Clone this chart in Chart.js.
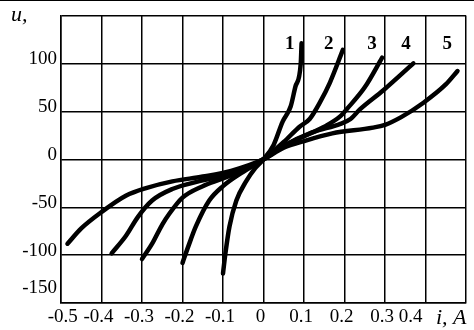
<!DOCTYPE html>
<html>
<head>
<meta charset="utf-8">
<script src="https://cdn.jsdelivr.net/npm/chart.js@4.4.1/dist/chart.umd.min.js"></script>
<style>
    html, body { margin: 0; padding: 0; background: #fff; }
</style>
</head>
<body>
<canvas id="chart" width="474" height="330"></canvas>
<script>
// current i (A) and voltage u for each curve
const i1 = [-0.100, -0.094, -0.084, -0.067, -0.043, -0.020, 0, 0.025, 0.047, 0.067, 0.079, 0.092, 0.094];
const u1 = [-119, -98, -70, -43, -23, -9, 0, 15, 39, 55, 76, 100, 121];

const i2 = [-0.200, -0.185, -0.167, -0.134, -0.100, -0.050, 0, 0.050, 0.089, 0.114, 0.139, 0.164, 0.196];
const u2 = [-108, -90, -70, -43, -28, -13, 0, 18, 34, 42, 59, 80, 114];

const i3 = [-0.300, -0.275, -0.250, -0.233, -0.200, -0.150, -0.100, -0.050, 0, 0.050, 0.100, 0.150, 0.190, 0.205, 0.250, 0.293];
const u3 = [-104, -88, -68, -57, -40, -28, -20, -11, 0, 14, 24, 34, 45, 52, 75, 106];

const i4 = [-0.375, -0.340, -0.310, -0.275, -0.225, -0.150, -0.100, -0.050, 0, 0.050, 0.120, 0.190, 0.215, 0.238, 0.296, 0.370];
const u4 = [-98, -80, -60, -43, -31, -22, -17, -10, 0, 14, 28, 37, 42, 52, 72, 100];

const i5 = [-0.484, -0.450, -0.400, -0.340, -0.290, -0.225, -0.150, -0.080, 0, 0.050, 0.100, 0.170, 0.270, 0.300, 0.340, 0.395, 0.450, 0.479];
const u5 = [-88, -72, -55, -38, -30, -23, -18, -12, 0, 12, 19, 27, 33, 36, 44, 59, 78, 92];

const curveNames = ['1', '2', '3', '4', '5'];
const nameI = [0.065, 0.161, 0.268, 0.352, 0.454];
const nameU = 120;

const xTickValues = [-0.5, -0.4, -0.3, -0.2, -0.1, 0, 0.1, 0.2, 0.3, 0.4, 0.5];
const xTickLabels = ['  -0.5', '-0.4', '-0.3', '-0.2', '-0.1', '0', '0.1', '0.2', '0.3', '0.4     ', ''];
const yTickValues = [-150, -100, -50, 0, 50, 100, 150];
const yTickLabels = [['-150', ''], '-100', '-50', '0', '50', '100', ''];

const curvesI = [i1, i2, i3, i4, i5];
const curvesU = [u1, u2, u3, u4, u5];

const serif = "'Liberation Serif', 'DejaVu Serif', serif";

const datasets = curvesI.map((xs, k) => ({
    label: curveNames[k],
    data: xs.map((x, n) => ({ x: x, y: curvesU[k][n] })),
    showLine: true,
    borderColor: '#000',
    borderWidth: 4.5,
    pointRadius: 0,
    cubicInterpolationMode: 'monotone',
    borderCapStyle: 'round',
    borderJoinStyle: 'round'
}));

// curve numbers, axis names and the thin rule on top
const textPlugin = {
    id: 'texts',
    afterDraw(chart) {
        const ctx = chart.ctx;
        const xs = chart.scales.x;
        const ys = chart.scales.y;
        ctx.save();
        ctx.fillStyle = '#000';
        ctx.fillRect(0, 0, chart.width, 1);

        ctx.font = 'bold 19px ' + serif;
        ctx.textAlign = 'center';
        ctx.textBaseline = 'middle';
        curveNames.forEach((name, k) => {
            ctx.fillText(name, xs.getPixelForValue(nameI[k]), ys.getPixelForValue(nameU));
        });

        ctx.font = 'italic 22px ' + serif;
        ctx.textAlign = 'left';
        ctx.textBaseline = 'alphabetic';
        ctx.fillText('u,', 11, 21);
        ctx.fillText('i, A', 436, 324);
        ctx.restore();
    }
};

new Chart(document.getElementById('chart'), {
    type: 'scatter',
    data: { datasets: datasets },
    options: {
        responsive: false,
        animation: false,
        devicePixelRatio: 1,
        layout: { padding: { top: 12, right: 8, left: 0, bottom: 0 } },
        plugins: {
            legend: { display: false },
            tooltip: { enabled: false }
        },
        scales: {
            x: {
                type: 'linear',
                min: -0.5,
                max: 0.5,
                afterBuildTicks: function (scale) {
                    scale.ticks = xTickValues.map(v => ({ value: v }));
                },
                afterFit: function (scale) {
                    scale.height = 24;
                },
                ticks: {
                    autoSkip: false,
                    maxRotation: 0,
                    padding: 2,
                    labelOffset: -3,
                    color: '#000',
                    font: { family: serif, size: 19 },
                    callback: function (value, index) {
                        return xTickLabels[index];
                    }
                },
                grid: { color: '#000', lineWidth: 1.5, drawTicks: false },
                border: { color: '#000', width: 1.5 }
            },
            y: {
                type: 'linear',
                min: -150,
                max: 150,
                afterBuildTicks: function (scale) {
                    scale.ticks = yTickValues.map(v => ({ value: v }));
                },
                afterFit: function (scale) {
                    scale.width = 61;
                },
                ticks: {
                    autoSkip: false,
                    padding: 4,
                    labelOffset: -4,
                    color: '#000',
                    font: { family: serif, size: 19 },
                    callback: function (value, index) {
                        return yTickLabels[index];
                    }
                },
                grid: { color: '#000', lineWidth: 1.5, drawTicks: false },
                border: { color: '#000', width: 1.5 }
            }
        }
    },
    plugins: [textPlugin]
});
</script>
</body>
</html>
